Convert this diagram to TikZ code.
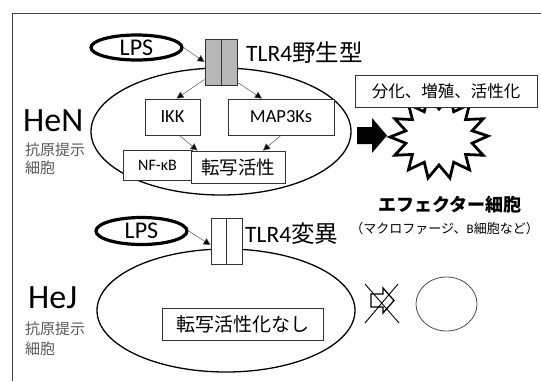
\documentclass[tikz,border=0pt]{standalone}
\usepackage{fontspec}
\setmainfont{Carlito}
\newfontfamily\jp{Noto Sans CJK JP}
\usetikzlibrary{arrows.meta,shapes.geometric,calc}
\tikzset{
  box/.style={draw=black!80, line width=0.9pt, fill=white, inner sep=0pt},
  lpsoval/.style={ellipse, draw, line width=3.2pt, fill=white, inner sep=0pt, minimum width=91pt, font=\fontsize{24}{24}\selectfont},
  recep/.style={draw=black!80, line width=0.9pt, inner sep=0pt, minimum width=32pt, minimum height=46pt},
  cellv/.style={ellipse, draw, line width=1.3pt, inner sep=0pt},
  sig/.style={draw=black!65, line width=0.5pt, -{Triangle[length=7pt,width=7pt,fill=black]}},
  title/.style={anchor=west, inner sep=0pt, font=\fontsize{23.5}{23.5}\selectfont},
  big/.style={anchor=west, inner sep=0pt, font=\fontsize{34}{34}\selectfont},
  sub/.style={anchor=west, inner sep=0pt, text=black!65, font=\jp\fontsize{15}{15}\selectfont},
}
\begin{document}
\begin{tikzpicture}[x=1pt,y=-1pt]
\useasboundingbox (0,0) rectangle (541,381);
% frame
\draw[black!75, line width=0.9pt] (12,381) -- (12,13) -- (541,13);

% ---------- HeN (wild type) ----------
\node[cellv, minimum width=260pt, minimum height=127pt] (cell1) at (221,131.5) {};
\node[lpsoval, minimum height=25pt] (lps1) at (136.5,47.5) {LPS};
\node[recep, fill=black!28] (tlr1) at (221,62) {};
\draw[black!80, line width=0.9pt] (tlr1.north) -- (tlr1.south);
\node[title] (tlr1t) at (246,53) {TLR4{\jp 野生型}};

\node[box, minimum width=55pt, minimum height=36pt, font=\fontsize{18.5}{18.5}\selectfont] (ikk) at (172.5,117) {IKK};
\node[box, minimum width=106pt, minimum height=36pt, font=\fontsize{18.5}{18.5}\selectfont] (map) at (281,117) {MAP3Ks};
\node[box, minimum width=69pt, minimum height=30pt, font=\fontsize{16}{16}\selectfont] (nfkb) at (157.5,165) {NF-κB};
\node[box, minimum width=94pt, minimum height=32pt, font=\jp\fontsize{18.5}{18.5}\selectfont] (ten) at (238,167) {転写活性};

\draw[sig] (lps1.east) -- (tlr1.west);
\draw[sig] ($(tlr1.south west)+(0,-6)$) -- ($(ikk.north)+(4,0)$);
\draw[sig] ($(tlr1.south east)+(0,-3)$) -- ($(map.north)+(-19,0)$);
\draw[sig] ($(ikk.south)+(7,0)$) -- ($(ten.north west)+(7,0)$);
\draw[sig] (map.south) -- ($(ten.north)+(25,0)$);

\node[big] (hen) at (23,121) {HeN};
\node[sub] (hen1) at (25,150) {抗原提示};
\node[sub] (hen2) at (25,168) {細胞};

% effector
\fill (357,127) -- (372,127) -- (372,118) -- (387,135.5) -- (372,153) -- (372,144) -- (357,144) -- cycle;
\draw[line width=2.8pt, fill=white, miter limit=20]
  (488,136) \foreach \i in {1,...,27} {
    -- ({439+ifthenelse(isodd(\i),34,49)*cos(\i*360/28)}, {137+ifthenelse(isodd(\i),28,42)*sin(\i*360/28)})
  } -- cycle;
\node[box, minimum width=182pt, minimum height=32pt, font=\jp\fontsize{16.5}{16.5}\selectfont] (diff) at (446,91) {分化、増殖、活性化};
\node[inner sep=0pt, font=\jp\bfseries\fontsize{18}{18}\selectfont] (eff) at (450,204.5) {エフェクター細胞};
\node[anchor=east, inner sep=0pt, font=\jp\fontsize{13}{13}\selectfont] (effsub) at (539,228.5) {（マクロファージ、{\rmfamily B}細胞など）};

% ---------- HeJ (mutant) ----------
\node[cellv, minimum width=258pt, minimum height=123pt] (cell2) at (226,310.5) {};
\node[lpsoval, minimum height=27pt] (lps2) at (141.5,231) {LPS};
\node[recep, fill=white, minimum width=31pt] (tlr2) at (226.5,241) {};
\draw[black!80, line width=0.9pt] (tlr2.north) -- (tlr2.south);
\node[title] (tlr2t) at (245,234) {TLR4{\jp 変異}};
\draw[sig] (lps2.east) -- ($(tlr2.west)+(0,4)$);

\node[box, minimum width=161pt, minimum height=32pt, font=\jp\fontsize{19}{19}\selectfont] (none) at (242.5,324) {転写活性化なし};

\node[big] (hej) at (28,298) {HeJ};
\node[sub] (hej1) at (25,329) {抗原提示};
\node[sub] (hej2) at (25,349) {細胞};

% blocked arrow
\draw[line width=1.3pt, fill=white, line join=miter]
  (371,294) -- (383,294) -- (383,288) -- (394,300.5) -- (383,313) -- (383,307) -- (371,307) -- cycle;
\coordinate (xa) at (365,284);
\coordinate (xb) at (399,323);
\coordinate (xc) at (398,284);
\coordinate (xd) at (365,323);
\draw[line width=0.9pt] (xa) -- (xb);
\draw[line width=0.9pt] (xc) -- (xd);
\node[ellipse, draw=black!70, line width=0.8pt, minimum width=61pt, minimum height=54pt, inner sep=0pt] (resting) at (446.5,304) {};
\end{tikzpicture}
\end{document}
